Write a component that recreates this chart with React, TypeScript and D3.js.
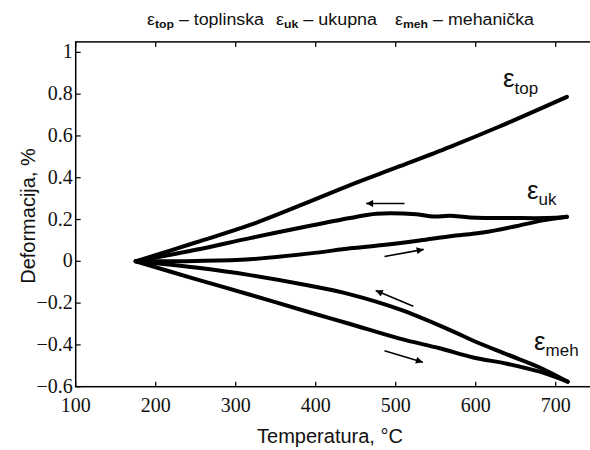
import React from 'react';
import * as d3 from 'd3';

// thermal strain (one branch, heating = cooling)
const topT = [175, 250, 318, 393, 443, 505, 568, 629, 714];
const topV = [0, 0.09, 0.174, 0.287, 0.365, 0.455, 0.548, 0.644, 0.787];

// total strain, heating branch
const ukHeatT = [175, 250, 318, 393, 443, 484, 530, 568, 609, 650, 684, 714];
const ukHeatV = [0, 0.002, 0.01, 0.038, 0.062, 0.078, 0.1, 0.12, 0.138, 0.168, 0.196, 0.213];
// total strain, cooling branch
const ukCoolT = [714, 700, 650, 593, 568, 547, 526, 476, 443, 393, 318, 250, 175];
const ukCoolV = [0.213, 0.208, 0.207, 0.21, 0.218, 0.214, 0.225, 0.228, 0.207, 0.17, 0.111, 0.055, 0];

// mechanical strain, heating branch
const mehHeatT = [175, 250, 318, 393, 443, 505, 555, 597, 639, 680, 715];
const mehHeatV = [0, -0.085, -0.16, -0.245, -0.3, -0.37, -0.416, -0.46, -0.49, -0.528, -0.576];
// mechanical strain, cooling branch
const mehCoolT = [715, 680, 639, 597, 568, 505, 443, 393, 318, 250, 175];
const mehCoolV = [-0.576, -0.508, -0.445, -0.38, -0.329, -0.23, -0.158, -0.117, -0.066, -0.03, 0];

// direction arrows [tailT, tailV, tipT, tipV]
const arrows = [
  [511, 0.277, 463, 0.277],
  [486, 0.023, 535, 0.057],
  [522, -0.215, 475, -0.14],
  [486, -0.428, 534, -0.483],
];

const xTicks = [100, 200, 300, 400, 500, 600, 700];
const yTicks = [-0.6, -0.4, -0.2, 0, 0.2, 0.4, 0.6, 0.8, 1];

// legend entries: symbol subscript, description
const legendSub = ['top', 'uk', 'meh'];
const legendText = ['toplinska', 'ukupna', 'mehanička'];

const W = 590;
const H = 450;

const App: React.FC = () => {
  const x = d3.scaleLinear().domain([100, 750]).range([75.7, 595.7]);
  const y = d3.scaleLinear().domain([-0.6, 1.05]).range([386.7, 41.9]);

  const line = d3
    .line<[number, number]>()
    .x(d => x(d[0]))
    .y(d => y(d[1]))
    .curve(d3.curveCatmullRom.alpha(0.5));

  const zip = (t: number[], v: number[]) => t.map((d, i) => [d, v[i]] as [number, number]);
  const series = [
    zip(topT, topV),
    zip(ukHeatT, ukHeatV),
    zip(ukCoolT, ukCoolV),
    zip(mehHeatT, mehHeatV),
    zip(mehCoolT, mehCoolV),
  ];

  const [x0, x1] = x.range();
  const [y0, y1] = y.range();
  const tick = 5;
  const serif = 'Liberation Serif, DejaVu Serif, Noto Serif, FreeSerif, Times New Roman, serif';
  const sans = 'Liberation Sans, Arial, sans-serif';

  // legend item left edges and widths (px)
  const legX = [147, 276, 395];
  const legW = [117, 101, 139];

  const fmt = (t: number) => (t === 0 ? '0' : t === 1 ? '1' : d3.format('.1f')(t));

  return (
    <div style={{ position: 'absolute', left: 0, top: 0 }}>
      <svg width={W} height={H} style={{ display: 'block', background: '#fff' }}>
        <defs>
          <marker id="ah" viewBox="0 0 10 10" refX="10" refY="5" markerWidth="10" markerHeight="7"
            markerUnits="userSpaceOnUse" orient="auto">
            <path d="M0,0 L10,5 L0,10 z" fill="#000" />
          </marker>
        </defs>

        {/* legend text */}
        {legendSub.map((s, i) => (
          <text key={s} x={legX[i]} y={25} fontFamily={sans} fontSize={16} fill="#111"
            textLength={legW[i]} lengthAdjust="spacingAndGlyphs">
            <tspan>ε</tspan>
            <tspan fontSize={11} fontWeight="bold" dy={3}>{s}</tspan>
            <tspan dy={-3}>{' – ' + legendText[i]}</tspan>
          </text>
        ))}

        {/* frame */}
        <rect x={x0} y={y1} width={x1 - x0} height={y0 - y1} fill="none" stroke="#000" strokeWidth={1.5} />

        {/* ticks, inward on all sides */}
        <g fontFamily={serif} fontSize={20} fill="#111">
          {xTicks.map(t => (
            <g key={'x' + t}>
              <line x1={x(t)} x2={x(t)} y1={y0} y2={y0 - tick} stroke="#000" strokeWidth={1.2} />
              <line x1={x(t)} x2={x(t)} y1={y1} y2={y1 + tick} stroke="#000" strokeWidth={1.2} />
              <text x={x(t)} y={y0 + 25} textAnchor="middle">{t}</text>
            </g>
          ))}
          {yTicks.map(t => (
            <g key={'y' + t}>
              <line x1={x0} x2={x0 + tick} y1={y(t)} y2={y(t)} stroke="#000" strokeWidth={1.2} />
              <text x={x0 - 3} y={y(t) + 6} textAnchor="end">{fmt(t)}</text>
            </g>
          ))}
        </g>

        {/* axis titles */}
        <text x={330} y={443} textAnchor="middle" fontFamily={sans} fontSize={20} fill="#111">
          Temperatura, °C
        </text>
        <text transform={`translate(35,216) rotate(-90)`} textAnchor="middle" fontFamily={sans}
          fontSize={20} fill="#111">
          Deformacija, %
        </text>

        {/* curves */}
        {series.map((s, i) => (
          <path key={i} d={line(s) || ''} fill="none" stroke="#000" strokeWidth={4}
            strokeLinejoin="round" strokeLinecap="round" />
        ))}

        {/* arrows */}
        {arrows.map((a, i) => (
          <line key={i} x1={x(a[0])} y1={y(a[1])} x2={x(a[2])} y2={y(a[3])} stroke="#000"
            strokeWidth={1.6} markerEnd="url(#ah)" />
        ))}

        {/* curve labels */}
        <text x={503} y={87} fontFamily={sans} fontSize={26} fill="#111">
          ε<tspan fontSize={17} dy={7}>top</tspan>
        </text>
        <text x={527} y={199} fontFamily={sans} fontSize={26} fill="#111">
          ε<tspan fontSize={17} dy={6}>uk</tspan>
        </text>
        <text x={534} y={350} fontFamily={sans} fontSize={26} fill="#111">
          ε<tspan fontSize={17} dy={6}>meh</tspan>
        </text>
      </svg>
    </div>
  );
};

export default App;
